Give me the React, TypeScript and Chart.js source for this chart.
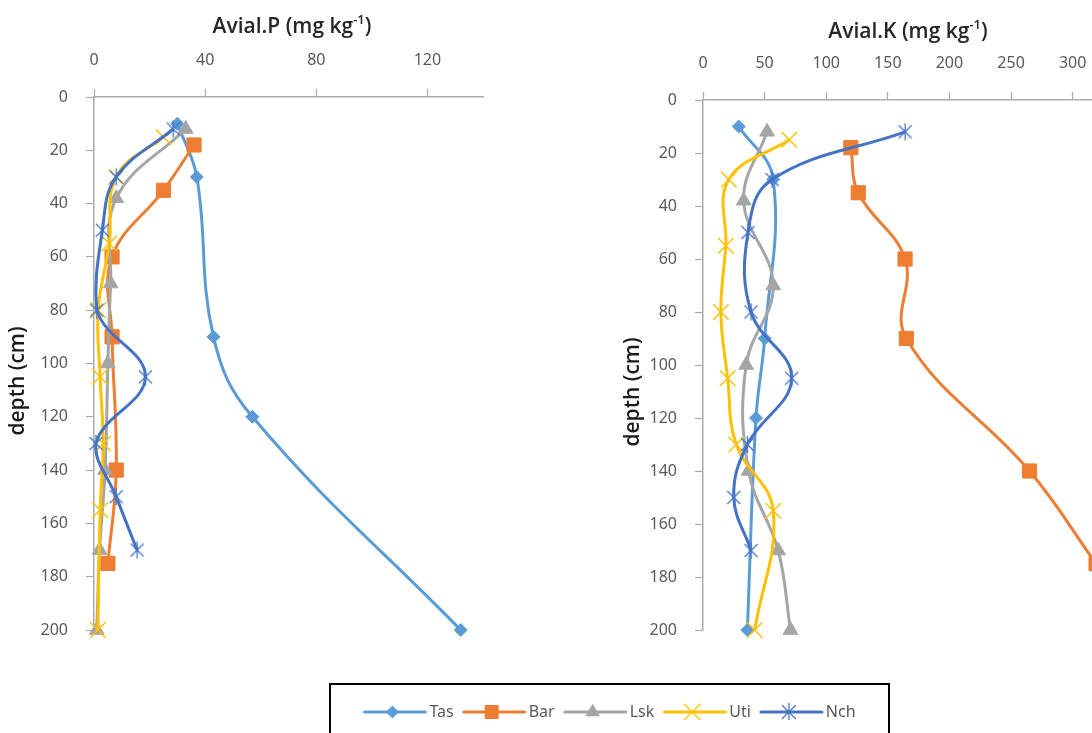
import React, { useEffect, useRef } from 'react';
import { Chart, registerables } from 'chart.js';

Chart.register(...registerables);

// ---------- data ----------
const seriesNames = ['Tas', 'Bar', 'Lsk', 'Uti', 'Nch'];
const seriesColors = ['#5B9BD5', '#ED7D31', '#A5A5A5', '#FFC000', '#4472C4'];

// sampling depths (cm) per site
const tasDepth = [10, 30, 90, 120, 200];
const barDepth = [18, 35, 60, 90, 140, 175];
const lskDepth = [12, 38, 70, 100, 140, 170, 200];
const utiDepth = [15, 30, 55, 80, 105, 130, 155, 200];
const nchDepth = [12, 30, 50, 80, 105, 130, 150, 170];

// Available P (mg/kg)
const tasP = [30, 37, 43, 57, 132];
const barP = [36, 25, 6.5, 6.5, 8, 5];
const lskP = [33, 8, 6, 5, 4, 2, 1];
const utiP = [25, 8, 5.5, 1.5, 2.2, 3.3, 2.2, 1.4];
const nchP = [28.5, 8, 3, 1, 18.5, 0.7, 8, 15.5];

// Available K (mg/kg)
const tasK = [29, 57, 50, 43, 36];
const barK = [120, 126, 164, 165, 265, 319];
const lskK = [52, 33, 57, 35, 37, 61, 71];
const utiK = [70, 21, 18.5, 14.5, 20, 27, 57, 42];
const nchK = [164, 56, 36.5, 39, 72, 36, 25, 39];

// tick labels
const pTicks = [0, 40, 80, 120];
const kTicks = [0, 50, 100, 150, 200, 250, 300, 350];
const depthTicks = [0, 20, 40, 60, 80, 100, 120, 140, 160, 180, 200];

const depths = [tasDepth, barDepth, lskDepth, utiDepth, nchDepth];

// ---------- styles ----------
const AXIS_COLOR = '#ABABAB';
const LABEL_COLOR = '#595959';
const TICK_FONT = { family: '"Noto Sans", "Open Sans", sans-serif', size: 16 };

function makeStarImage(color: string, w = 19, h = 19) {
  const c = document.createElement('canvas');
  c.width = w;
  c.height = h;
  const ctx = c.getContext('2d')!;
  drawMarker(ctx, 4, w / 2, h / 2, color);
  return c;
}

function drawMarker(ctx: CanvasRenderingContext2D, kind: number, cx: number, cy: number, color: string) {
  ctx.fillStyle = color;
  ctx.strokeStyle = color;
  if (kind === 0) {
    const r = 6.5;
    ctx.beginPath();
    ctx.moveTo(cx, cy - r);
    ctx.lineTo(cx + r, cy);
    ctx.lineTo(cx, cy + r);
    ctx.lineTo(cx - r, cy);
    ctx.closePath();
    ctx.fill();
  } else if (kind === 1) {
    ctx.fillRect(cx - 7, cy - 7, 14, 14);
  } else if (kind === 2) {
    const r = 8.5;
    ctx.beginPath();
    ctx.moveTo(cx, cy - r);
    ctx.lineTo(cx + r * 0.866, cy + r / 2);
    ctx.lineTo(cx - r * 0.866, cy + r / 2);
    ctx.closePath();
    ctx.fill();
  } else if (kind === 3) {
    const r = 7.8;
    ctx.lineWidth = 1.3;
    ctx.beginPath();
    ctx.moveTo(cx - r, cy - r);
    ctx.lineTo(cx + r, cy + r);
    ctx.moveTo(cx + r, cy - r);
    ctx.lineTo(cx - r, cy + r);
    ctx.stroke();
  } else {
    ctx.lineWidth = 1.3;
    ctx.beginPath();
    ctx.moveTo(cx - 6.5, cy - 6.5);
    ctx.lineTo(cx + 6.5, cy + 6.5);
    ctx.moveTo(cx + 6.5, cy - 6.5);
    ctx.lineTo(cx - 6.5, cy + 6.5);
    ctx.moveTo(cx, cy - 8.5);
    ctx.lineTo(cx, cy + 8.5);
    ctx.stroke();
  }
}

function makeLegendImage(i: number) {
  const c = document.createElement('canvas');
  c.width = 76;
  c.height = 20;
  const ctx = c.getContext('2d')!;
  ctx.strokeStyle = seriesColors[i];
  ctx.lineWidth = 3;
  ctx.lineCap = 'round';
  ctx.beginPath();
  ctx.moveTo(10, 10);
  ctx.lineTo(71, 10);
  ctx.stroke();
  drawMarker(ctx, i, 38, 10, seriesColors[i]);
  return c;
}

const panelTitles = {
  id: 'panelTitles',
  afterDraw(chart: any, _args: any, opts: any) {
    const ctx = chart.ctx as CanvasRenderingContext2D;
    ctx.save();
    ctx.fillStyle = '#262626';
    ctx.textBaseline = 'middle';
    const fam = '"Open Sans", "Noto Sans", sans-serif';
    const mainFont = `600 21px ${fam}`;
    const supFont = `600 13px ${fam}`;
    ctx.font = mainFont;
    const w1 = ctx.measureText(opts.xMain).width;
    const w3 = ctx.measureText(opts.xTail).width;
    ctx.font = supFont;
    const w2 = ctx.measureText(opts.xSup).width;
    let x = opts.xPos[0] - (w1 + w2 + w3) / 2;
    const y = opts.xPos[1];
    ctx.textAlign = 'left';
    ctx.font = mainFont;
    ctx.fillText(opts.xMain, x, y);
    x += w1;
    ctx.font = supFont;
    ctx.fillText(opts.xSup, x, y - 7);
    x += w2;
    ctx.font = mainFont;
    ctx.fillText(opts.xTail, x, y);

    ctx.translate(opts.yPos[0], opts.yPos[1]);
    ctx.rotate(-Math.PI / 2);
    ctx.textAlign = 'center';
    ctx.fillStyle = '#1a1a1a';
    ctx.font = `600 21px ${fam}`;
    ctx.fillText(opts.yText, 0, 0);
    ctx.restore();
  },
};

function panelConfig(
  values: number[][],
  xMax: number,
  xTicks: number[],
  yWidth: number,
  padRight: number,
  titles: any
): any {
  const starImg = makeStarImage(seriesColors[4]);
  const styles: any[] = ['rectRot', 'rect', 'triangle', 'crossRot', starImg];
  const radii = [6.5, 10, 8.5, 11, 9];
  const bw = [1, 1, 1, 1.4, 1];
  return {
    type: 'scatter',
    data: {
      datasets: seriesNames.map((name, i) => ({
        label: name,
        data: depths[i].map((d, j) => ({ x: values[i][j], y: d })),
        showLine: true,
        borderColor: seriesColors[i],
        backgroundColor: seriesColors[i],
        borderWidth: 3,
        tension: 0.4,
        pointStyle: styles[i],
        pointRadius: radii[i],
        pointBorderWidth: bw[i],
        pointBorderColor: seriesColors[i],
        pointBackgroundColor: seriesColors[i],
        clip: false,
        order: 5 - i,
      })),
    },
    options: {
      responsive: false,
      animation: false,
      events: [],
      layout: { padding: { left: 0, right: padRight, top: 0, bottom: 30 } },
      plugins: {
        legend: { display: false },
        tooltip: { enabled: false },
        panelTitles: titles,
      },
      scales: {
        x: {
          type: 'linear',
          position: 'top',
          min: 0,
          max: xMax,
          afterBuildTicks: (s: any) => {
            s.ticks = xTicks.map((v) => ({ value: v }));
          },
          afterFit: (s: any) => {
            s.height = 97;
          },
          ticks: {
            padding: 19,
            font: TICK_FONT,
            color: LABEL_COLOR,
            maxRotation: 0,
            autoSkip: false,
            callback: (v: any) => String(v),
          },
          grid: {
            display: true,
            drawOnChartArea: false,
            drawTicks: true,
            tickLength: 8,
            tickColor: AXIS_COLOR,
            tickWidth: 1.2,
          },
          border: { display: true, color: AXIS_COLOR, width: 1.5 },
        },
        y: {
          type: 'linear',
          position: 'left',
          reverse: true,
          min: 0,
          max: 200,
          afterBuildTicks: (s: any) => {
            s.ticks = depthTicks.map((v) => ({ value: v }));
          },
          afterFit: (s: any) => {
            s.width = yWidth;
          },
          ticks: {
            padding: 18,
            font: TICK_FONT,
            color: LABEL_COLOR,
            autoSkip: false,
            callback: (v: any) => String(v),
          },
          grid: {
            display: true,
            drawOnChartArea: false,
            drawTicks: true,
            tickLength: 8,
            tickColor: AXIS_COLOR,
            tickWidth: 1.2,
          },
          border: { display: true, color: AXIS_COLOR, width: 1.5 },
        },
      },
    },
    plugins: [panelTitles],
  };
}

export default function App() {
  const pRef = useRef<HTMLCanvasElement>(null);
  const kRef = useRef<HTMLCanvasElement>(null);
  const lRef = useRef<HTMLCanvasElement>(null);

  useEffect(() => {
    const pChart = new Chart(
      pRef.current!,
      panelConfig([tasP, barP, lskP, utiP, nchP], 140, pTicks, 94, 17, {
        xMain: 'Avial.P (mg kg',
        xSup: '-1',
        xTail: ')',
        xPos: [292, 27],
        yText: 'depth (cm)',
        yPos: [18, 381],
      })
    );
    const kChart = new Chart(
      kRef.current!,
      panelConfig([tasK, barK, lskK, utiK, nchK], 350, kTicks, 88, 4, {
        xMain: 'Avial.K (mg kg',
        xSup: '-1',
        xTail: ')',
        xPos: [293, 29],
        yText: 'depth (cm)',
        yPos: [18, 389],
      })
    );
    const legendImages = seriesNames.map((_, i) => makeLegendImage(i));
    const lChart = new Chart(lRef.current!, {
      type: 'line',
      data: {
        datasets: seriesNames.map((n, i) => ({ label: n, data: [], borderColor: seriesColors[i] })),
      },
      options: {
        responsive: false,
        animation: false,
        events: [],
        layout: { padding: { top: 10 } },
        scales: { x: { display: false }, y: { display: false } },
        plugins: {
          tooltip: { enabled: false },
          legend: {
            display: true,
            position: 'top',
            labels: {
              usePointStyle: true,
              pointStyleWidth: 58,
              boxHeight: 16,
              padding: 9,
              color: LABEL_COLOR,
              font: { size: 16, family: '"Noto Sans", "Open Sans", sans-serif' },
              generateLabels: () =>
                seriesNames.map((n, i) => ({
                  text: n,
                  pointStyle: legendImages[i],
                  fillStyle: seriesColors[i],
                  strokeStyle: seriesColors[i],
                  lineWidth: 0,
                  hidden: false,
                  datasetIndex: i,
                  fontColor: LABEL_COLOR,
                })),
            },
          },
        },
      } as any,
    });
    return () => {
      pChart.destroy();
      kChart.destroy();
      lChart.destroy();
    };
  }, []);

  return (
    <div
      style={{
        position: 'fixed',
        left: 0,
        top: 0,
        width: 1092,
        height: 733,
        overflow: 'hidden',
        background: '#fff',
      }}
    >
      <canvas
        ref={pRef}
        width={500}
        height={660}
        style={{ position: 'absolute', left: 0, top: 0, width: 500, height: 660 }}
      />
      <canvas
        ref={kRef}
        width={552}
        height={657}
        style={{ position: 'absolute', left: 615, top: 3, width: 552, height: 657 }}
      />
      <div
        style={{
          position: 'absolute',
          left: 329,
          top: 683,
          width: 561,
          height: 80,
          border: '2px solid #000',
          boxSizing: 'border-box',
        }}
      >
        <canvas ref={lRef} width={557} height={60} style={{ display: 'block', width: 557, height: 60 }} />
      </div>
    </div>
  );
}
